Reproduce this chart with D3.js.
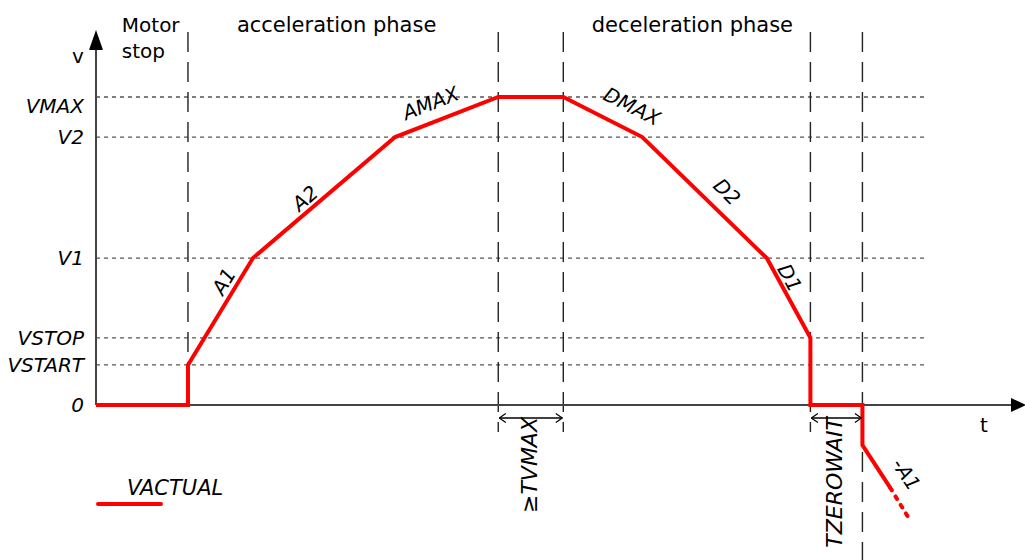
<!DOCTYPE html>
<html>
<head>
<meta charset="utf-8">
<script src="https://cdn.jsdelivr.net/npm/d3@7"></script>
<style>
body { margin: 0; background: #fff; }
svg { display: block; font-family: "DejaVu Sans", Verdana, sans-serif; }
</style>
</head>
<body>
<div id="chart"></div>
<script>
// velocity levels (v units, VMAX = 100)
var levelNames = ["0", "VSTART", "VSTOP", "V1", "V2", "VMAX"];
var levelValues = [0, 13, 21.8, 47.7, 87, 100];

// VACTUAL ramp (t units, 0..100 over the t axis)
var profileT = [0, 9.9, 9.9, 16.9, 32.2, 43.3, 50.3, 58.8, 72.2, 76.9, 76.9, 82.5, 82.5, 85.5];
var profileV = [0, 0, 13, 47.7, 87, 100, 100, 87, 47.7, 21.8, 0, 0, -13, -26.9];
// continuation, drawn dotted
var tailT = [85.5, 87.6];
var tailV = [-26.9, -37.3];

// ramp labels and the profile segment each one belongs to
var rampNames = ["A1", "A2", "AMAX", "DMAX", "D2", "D1", "-A1"];
var rampSegment = [2, 3, 4, 6, 7, 8, 12];

// phase boundaries
var phaseT = [9.9, 43.3, 50.3, 76.9, 82.5];
var phaseNames = [["Motor", "stop"], ["acceleration phase"], ["deceleration phase"]];
var phaseCenterT = [5.9, 25.9, 64.2];

// time spans below the t axis
var spanNames = ["\u2265TVMAX", "TZEROWAIT"];
var spanFrom = [43.3, 76.9];
var spanTo = [50.3, 82.5];

var width = 1025, height = 560;
var red = "#ff0000";

var x = d3.scaleLinear().domain([0, 100]).range([96, 1025]);
var y = d3.scaleLinear().domain([0, 100]).range([405, 97]);

var svg = d3.select("#chart").append("svg")
  .attr("width", width)
  .attr("height", height);

var defs = svg.append("defs");
defs.append("marker")
  .attr("id", "open")
  .attr("viewBox", "0 0 10 10")
  .attr("refX", 9.5).attr("refY", 5)
  .attr("markerWidth", 10).attr("markerHeight", 10)
  .attr("markerUnits", "userSpaceOnUse")
  .attr("orient", "auto-start-reverse")
  .append("path")
  .attr("d", "M3,0.5 L9.5,5 L3,9.5")
  .attr("fill", "none")
  .attr("stroke", "#000")
  .attr("stroke-width", 1.2);

// horizontal dotted level lines
var gridEnd = 89.5;
svg.append("g").selectAll("line")
  .data(levelValues.slice(1))
  .enter().append("line")
  .attr("x1", x(0)).attr("x2", x(gridEnd))
  .attr("y1", function(d) { return y(d); })
  .attr("y2", function(d) { return y(d); })
  .attr("stroke", "#555")
  .attr("stroke-width", 1.3)
  .attr("stroke-dasharray", "4,4");

// vertical dashed phase lines
svg.append("g").selectAll("line")
  .data(phaseT)
  .enter().append("line")
  .attr("x1", function(d) { return x(d); })
  .attr("x2", function(d) { return x(d); })
  .attr("y1", 32)
  .attr("y2", function(d, i) {
    if (i == 0) return y(0);
    if (i == phaseT.length - 1) return height;
    return y(0) + 27;
  })
  .attr("stroke", "#222")
  .attr("stroke-width", 1.4)
  .attr("stroke-dasharray", "20,10");

// axes with arrow heads
svg.append("line")
  .attr("x1", x(0)).attr("x2", x(0))
  .attr("y1", y(0)).attr("y2", 48)
  .attr("stroke", "#444").attr("stroke-width", 2);
svg.append("path")
  .attr("d", "M" + x(0) + ",30 L" + (x(0) - 7) + ",50 L" + (x(0) + 7) + ",50 Z")
  .attr("fill", "#000");
svg.append("line")
  .attr("x1", x(0)).attr("x2", 1012)
  .attr("y1", y(0)).attr("y2", y(0))
  .attr("stroke", "#444").attr("stroke-width", 2);
svg.append("path")
  .attr("d", "M1026," + y(0) + " L1011," + (y(0) - 7) + " L1011," + (y(0) + 7) + " Z")
  .attr("fill", "#000");

svg.append("text").attr("x", 78).attr("y", 63)
  .attr("text-anchor", "middle").attr("font-size", 20).text("v");
svg.append("text").attr("x", 984).attr("y", 432)
  .attr("text-anchor", "middle").attr("font-size", 20).text("t");

// level labels
svg.append("g").selectAll("text")
  .data(levelNames)
  .enter().append("text")
  .attr("x", 84)
  .attr("y", function(d, i) { return y(levelValues[i]) + (d == "VMAX" ? 16 : 7); })
  .attr("text-anchor", "end")
  .attr("font-size", 20)
  .attr("font-style", "italic")
  .text(function(d) { return d; });

// phase headings
phaseNames.forEach(function(lines, i) {
  var t = svg.append("text")
    .attr("y", 32)
    .attr("font-size", lines.length > 1 ? 20 : 21);
  lines.forEach(function(s, j) {
    t.append("tspan")
      .attr("x", lines.length > 1 ? x(phaseCenterT[i]) - 29 : x(phaseCenterT[i]))
      .attr("dy", j == 0 ? 0 : 26)
      .attr("text-anchor", lines.length > 1 ? "start" : "middle")
      .text(s);
  });
});

// VACTUAL
var pts = profileT.map(function(t, i) { return [t, profileV[i]]; });
var line = d3.line()
  .x(function(d) { return x(d[0]); })
  .y(function(d) { return y(d[1]); });

svg.append("path")
  .datum(pts)
  .attr("d", line)
  .attr("fill", "none")
  .attr("stroke", red)
  .attr("stroke-width", 4)
  .attr("stroke-linejoin", "miter");

svg.append("path")
  .datum(tailT.map(function(t, i) { return [t, tailV[i]]; }))
  .attr("d", line)
  .attr("fill", "none")
  .attr("stroke", red)
  .attr("stroke-width", 4)
  .attr("stroke-linecap", "round")
  .attr("stroke-dasharray", "3,7");

// ramp labels: position along the segment (f) and distance off it (off)
var place = {
  "A1": [0.72, 13], "A2": [0.42, 12], "AMAX": [0.41, 19], "DMAX": [0.74, 23],
  "D2": [0.57, 20], "D1": [0.31, 11], "-A1": [0.95, 21]
};
svg.append("g").selectAll("text")
  .data(rampNames)
  .enter().append("text")
  .attr("font-size", 20)
  .attr("font-style", "italic")
  .attr("text-anchor", "middle")
  .attr("dy", "0.36em")
  .attr("transform", function(d, i) {
    var k = rampSegment[i];
    var x0 = x(profileT[k]), y0 = y(profileV[k]);
    var x1 = x(profileT[k + 1]), y1 = y(profileV[k + 1]);
    var dx = x1 - x0, dy = y1 - y0, len = Math.sqrt(dx * dx + dy * dy);
    // unit normal on the upper side of the segment
    var nx = dy / len, ny = -dx / len;
    if (ny > 0) { nx = -nx; ny = -ny; }
    var p = place[d];
    var cx = x0 + dx * p[0] + nx * p[1];
    var cy = y0 + dy * p[0] + ny * p[1];
    var ang = Math.atan2(dy, dx) * 180 / Math.PI;
    return "translate(" + cx + "," + cy + ") rotate(" + ang + ")";
  })
  .text(function(d) { return d; });

// span arrows and labels
spanNames.forEach(function(name, i) {
  var a = x(spanFrom[i]), b = x(spanTo[i]);
  svg.append("line")
    .attr("x1", a + 1).attr("x2", b - 1)
    .attr("y1", 418).attr("y2", 418)
    .attr("stroke", "#000").attr("stroke-width", 1.3)
    .attr("marker-start", "url(#open)")
    .attr("marker-end", "url(#open)");
  svg.append("text")
    .attr("transform", "translate(" + ((a + b) / 2 - 2) + ",417) rotate(-90)")
    .attr("text-anchor", "end")
    .attr("dy", "0.36em")
    .attr("font-size", 22)
    .attr("font-style", "italic")
    .text(name);
});

// legend
svg.append("line")
  .attr("x1", 98).attr("x2", 161)
  .attr("y1", 504).attr("y2", 504)
  .attr("stroke", red).attr("stroke-width", 4)
  .attr("stroke-linecap", "round");
svg.append("text")
  .attr("x", 127).attr("y", 495)
  .attr("font-size", 21)
  .attr("font-style", "italic")
  .text("VACTUAL");
</script>
</body>
</html>
